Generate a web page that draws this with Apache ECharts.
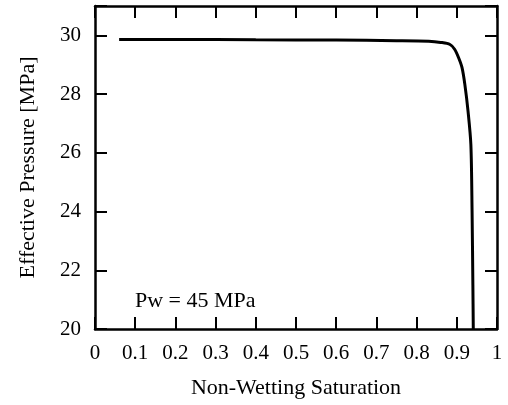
<!DOCTYPE html>
<html>
<head>
<meta charset="utf-8">
<script src="https://cdn.jsdelivr.net/npm/echarts@6/dist/echarts.min.js"></script>
<style>
  html, body { margin: 0; padding: 0; background: #fff; }
  #main { width: 508px; height: 405px; }
</style>
</head>
<body>
<div id="main"></div>
<script>
// curve
const saturation = [0.06, 0.2, 0.4, 0.6, 0.75, 0.83, 0.86, 0.883, 0.895, 0.905, 0.913, 0.92, 0.928, 0.935, 0.938, 0.940, 0.941];
const pressure   = [29.86, 29.86, 29.85, 29.84, 29.82, 29.80, 29.76, 29.69, 29.52, 29.22, 28.9, 28.33, 27.41, 26.28, 24.0, 21.5, 20.0];

const yTicks = [20, 22, 24, 26, 28, 30];
const noteText = 'Pw = 45 MPa';

const font = 'Liberation Serif';
const fsize = 21;
const titleSize = 22;

let Chart = echarts.init(document.getElementById('main'), null, { renderer: 'canvas' });

// every side of the box is an axis with ticks pointing inward
function frameAxis(type, pos, extra) {
  const ax = {
    type: 'value',
    position: pos,
    axisLine: { show: true, onZero: false, lineStyle: { color: '#000', width: 2.5 } },
    axisTick: { show: true, inside: true, length: 12, lineStyle: { color: '#000', width: 2 } },
    splitLine: { show: false }
  };
  if (type === 'x') {
    ax.min = 0; ax.max = 1; ax.interval = 0.1;
  } else {
    ax.min = 20; ax.max = 31; ax.interval = 2;
  }
  return Object.assign(ax, extra);
}

const option = {
  animation: false,
  grid: { left: 95, right: 11, top: 6, bottom: 76 },
  xAxis: [
    frameAxis('x', 'bottom', {
      name: 'Non-Wetting Saturation',
      nameLocation: 'middle',
      nameGap: 48,
      nameTextStyle: { fontFamily: font, fontSize: titleSize, color: '#000' },
      axisLabel: {
        fontFamily: font, fontSize: fsize, color: '#000', margin: 14,
        formatter: v => String(+v.toFixed(1))
      }
    }),
    frameAxis('x', 'top', { axisLabel: { show: false } })
  ],
  yAxis: [
    frameAxis('y', 'left', {
      name: 'Effective Pressure [MPa]',
      nameLocation: 'middle',
      nameGap: 56,
      nameTextStyle: { fontFamily: font, fontSize: titleSize, color: '#000' },
      axisLabel: {
        fontFamily: font, fontSize: fsize, color: '#000', margin: 14,
        formatter: v => (yTicks.indexOf(v) >= 0 ? String(v) : '')
      }
    }),
    frameAxis('y', 'right', { axisLabel: { show: false } })
  ],
  graphic: [{
    type: 'text',
    left: 135,
    top: 290,
    style: { text: noteText, fontFamily: font, fontSize: titleSize, fill: '#000' }
  }],
  series: [{
    type: 'line',
    data: saturation.map((s, i) => [s, pressure[i]]),
    showSymbol: false,
    smooth: 0.3,
    lineStyle: { color: '#000', width: 3 },
    clip: true
  }]
};

Chart.setOption(option);
</script>
</body>
</html>
